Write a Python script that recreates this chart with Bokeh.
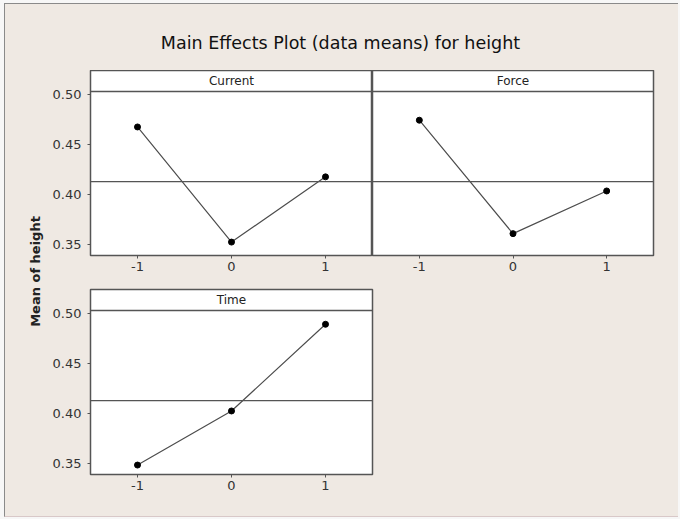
import numpy as np
from bokeh.plotting import figure
from bokeh.models import Range1d, FixedTicker, Span, Label
from bokeh.layouts import column, row
from bokeh.embed import file_html
from bokeh.resources import INLINE

# ---------------- data ----------------
title_text = "Main Effects Plot (data means) for height"
y_label_text = "Mean of height"
levels = [-1, 0, 1]
level_labels = ["-1", "0", "1"]
factor_names = ["Current", "Force", "Time"]
current_means = [0.4678, 0.3520, 0.4176]
force_means = [0.4746, 0.3605, 0.4034]
time_means = [0.3480, 0.4024, 0.4896]
y_ticks = [0.35, 0.40, 0.45, 0.50]
y_tick_labels = ["0.35", "0.40", "0.45", "0.50"]

grand_mean = float(np.mean(current_means + force_means + time_means))

# ---------------- style ----------------
BG = "#efe9e3"
FONT = "DejaVu Sans"
LINE_C = "#555555"
Y_LO, Y_HI = 0.3385, 0.5246
FRAME_H = 185
PX = FRAME_H / (Y_HI - Y_LO)
HEADER_Y = Y_HI - 21 / PX
STRIP_Y = Y_HI - 10.5 / PX


def panel(name, means, frame_w, left_axis, mb_left, mb_right, mb_top, mb_bottom):
    p = figure(frame_width=frame_w, frame_height=FRAME_H,
               x_range=Range1d(-1.5, 1.5), y_range=Range1d(Y_LO, Y_HI),
               output_backend="svg", toolbar_location=None,
               x_axis_location="below",
               y_axis_location="left" if left_axis else None,
               min_border_left=mb_left, min_border_right=mb_right,
               min_border_top=mb_top, min_border_bottom=mb_bottom)
    p.background_fill_color = "white"
    p.border_fill_color = BG
    p.outline_line_color = LINE_C
    p.outline_line_width = 1.5
    p.grid.visible = False

    xa = p.xaxis[0]
    xa.ticker = FixedTicker(ticks=levels)
    xa.major_label_overrides = {float(v): s for v, s in zip(levels, level_labels)}
    if left_axis:
        ya = p.yaxis[0]
        ya.ticker = FixedTicker(ticks=y_ticks)
        ya.major_label_overrides = {float(v): s for v, s in zip(y_ticks, y_tick_labels)}
    for ax in p.axis:
        ax.axis_line_color = LINE_C
        ax.major_tick_line_color = LINE_C
        ax.major_tick_out = 3
        ax.major_tick_in = 0
        ax.minor_tick_line_color = None
        ax.major_label_text_font = FONT
        ax.major_label_text_font_size = "13px"
        ax.major_label_text_color = "#333333"
    xa.major_label_standoff = 3
    if left_axis:
        p.yaxis[0].major_label_standoff = 6

    p.add_layout(Span(location=grand_mean, dimension="width",
                      line_color=LINE_C, line_width=1.3))
    p.add_layout(Span(location=HEADER_Y, dimension="width",
                      line_color=LINE_C, line_width=1.3))
    p.add_layout(Label(x=0, y=STRIP_Y, text=name, text_align="center",
                       text_baseline="middle", text_font=FONT,
                       text_font_size="12px", text_color="#222222"))
    p.line(levels, means, line_color="#4d4d4d", line_width=1.2)
    p.scatter(levels, means, size=6, fill_color="black", line_color="black")
    return p


def blank(w, h):
    p = figure(width=w, height=h, x_range=Range1d(0, 1), y_range=Range1d(0, 1),
               output_backend="svg", toolbar_location=None,
               x_axis_location=None, y_axis_location=None,
               min_border=0)
    p.grid.visible = False
    p.outline_line_color = None
    p.background_fill_color = BG
    p.border_fill_color = BG
    return p


head = blank(664, 62)
head.add_layout(Label(x=0.5, y=0.45, text=title_text, text_align="center",
                      text_baseline="middle", text_font=FONT,
                      text_font_size="17.5px", text_color="#111111"))

ylab = blank(40, 441)
ylab.add_layout(Label(x=0.675, y=240 / 441, text=y_label_text, angle=90,
                      angle_units="deg", text_align="center",
                      text_baseline="middle", text_font=FONT,
                      text_font_size="13px", text_font_style="bold",
                      text_color="#222222"))

p_cur = panel(factor_names[0], current_means, 282, True, 42, 0, 0, 28)
p_for = panel(factor_names[1], force_means, 281, False, 0, 19, 0, 28)
p_time = panel(factor_names[2], time_means, 282, True, 42, 300, 6, 37)

layout = column(head, row(ylab, column(row(p_cur, p_for), p_time)))

html = file_html(layout, INLINE, title="Main Effects Plot")
page_css = ("<style>html{background:#f7f7f7 !important;}"
            "body{margin:0 !important;position:absolute;left:4px;top:3px;"
            "width:674px;height:514px;box-sizing:border-box;"
            "padding:4px 0 0 3px;background:" + BG + " !important;"
            "border-left:1px solid #8a8a8a;border-top:1px solid #8a8a8a;"
            "border-bottom:1px solid #d8c8c8;overflow:hidden;}</style>")
html = html.replace("</head>", page_css + "</head>", 1)
open("out.html", "w").write(html)
